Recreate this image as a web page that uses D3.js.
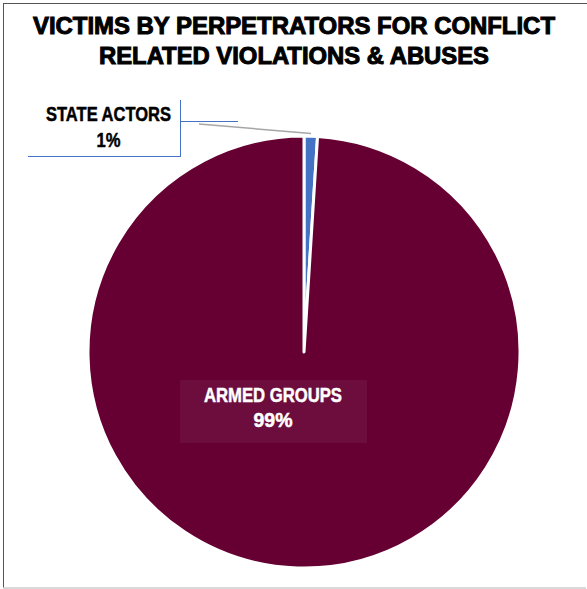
<!DOCTYPE html>
<html>
<head>
<meta charset="utf-8">
<script src="https://cdn.jsdelivr.net/npm/d3@7"></script>
<style>
  body { margin: 0; background: #fff; }
  .narrow { font-family: "Liberation Sans Narrow", "Arial Narrow", "Liberation Sans", sans-serif; font-weight: bold; }
</style>
</head>
<body>
<div id="chart"></div>
<script>
const width = 587
const height = 589

// data
const labels = ['STATE ACTORS', 'ARMED GROUPS']
const values = [1, 99]
const colors = ['#4472C4', '#660033']
const titleLines = ['VICTIMS BY PERPETRATORS FOR CONFLICT', 'RELATED VIOLATIONS & ABUSES']

const svg = d3.select('#chart').append('svg')
  .attr('width', width)
  .attr('height', height)

// frame
svg.append('line').attr('x1', 3).attr('x2', width).attr('y1', 3.5).attr('y2', 3.5)
  .attr('stroke', '#555').attr('stroke-width', 1)
svg.append('line').attr('x1', 3.5).attr('x2', 3.5).attr('y1', 3).attr('y2', 588)
  .attr('stroke', '#555').attr('stroke-width', 1)
svg.append('line').attr('x1', 3).attr('x2', 586).attr('y1', 588).attr('y2', 588)
  .attr('stroke', '#ccc').attr('stroke-width', 1.5)

// title
svg.selectAll('text.title').data(titleLines).join('text')
  .attr('class', 'title')
  .attr('x', 294)
  .attr('y', (d, i) => 34 + i * 30)
  .attr('text-anchor', 'middle')
  .attr('font-family', 'Liberation Sans, Arial, sans-serif')
  .attr('font-weight', 'bold')
  .attr('font-size', 23.5)
  .attr('stroke', '#000')
  .attr('stroke-width', 1)
  .attr('textLength', (d, i) => i === 0 ? 522 : 390)
  .attr('lengthAdjust', 'spacingAndGlyphs')
  .text(d => d)

// pie
const cx = 304
const cy = 352
const radius = 216

const pie = d3.pie().sort(null).value(d => d)
const arc = d3.arc().innerRadius(0).outerRadius(radius)
const arcs = pie(values)

const g = svg.append('g').attr('transform', `translate(${cx},${cy})`)
g.selectAll('path').data(arcs).join('path')
  .attr('d', arc)
  .attr('fill', (d, i) => colors[i])
  .attr('stroke', '#fff')
  .attr('stroke-width', 3)
  .attr('stroke-linejoin', 'round')

// state actors callout
svg.append('line').attr('x1', 199).attr('y1', 124).attr('x2', 311).attr('y2', 133.5)
  .attr('stroke', '#a6a6a6').attr('stroke-width', 1.5)
svg.append('line').attr('x1', 180.5).attr('x2', 180.5).attr('y1', 100).attr('y2', 156)
  .attr('stroke', '#4472C4').attr('stroke-width', 1)
svg.append('line').attr('x1', 28).attr('x2', 181).attr('y1', 156.5).attr('y2', 156.5)
  .attr('stroke', '#4472C4').attr('stroke-width', 1)
svg.append('line').attr('x1', 180).attr('x2', 238).attr('y1', 121.5).attr('y2', 121.5)
  .attr('stroke', '#4472C4').attr('stroke-width', 1)

// condensed bold label lines
function labelText (color, cxText, lines) {
  const t = svg.append('text').attr('class', 'narrow')
    .attr('text-anchor', 'middle').attr('font-size', 20.5).attr('fill', color)
    .attr('stroke', color).attr('stroke-width', 0.5)
  lines.forEach(l => {
    t.append('tspan').attr('x', cxText).attr('y', l.y)
      .attr('textLength', l.w).attr('lengthAdjust', 'spacingAndGlyphs')
      .text(l.text)
  })
}

labelText('#000', 108.5, [
  { text: labels[0], y: 121, w: 125 },
  { text: values[0] + '%', y: 146.5, w: 24 }
])

// armed groups label
svg.append('rect').attr('x', 180).attr('y', 380).attr('width', 187).attr('height', 63)
  .attr('fill', '#fff').attr('fill-opacity', 0.05)

labelText('#fff', 273, [
  { text: labels[1], y: 401.5, w: 138 },
  { text: values[1] + '%', y: 427, w: 39 }
])
</script>
</body>
</html>
